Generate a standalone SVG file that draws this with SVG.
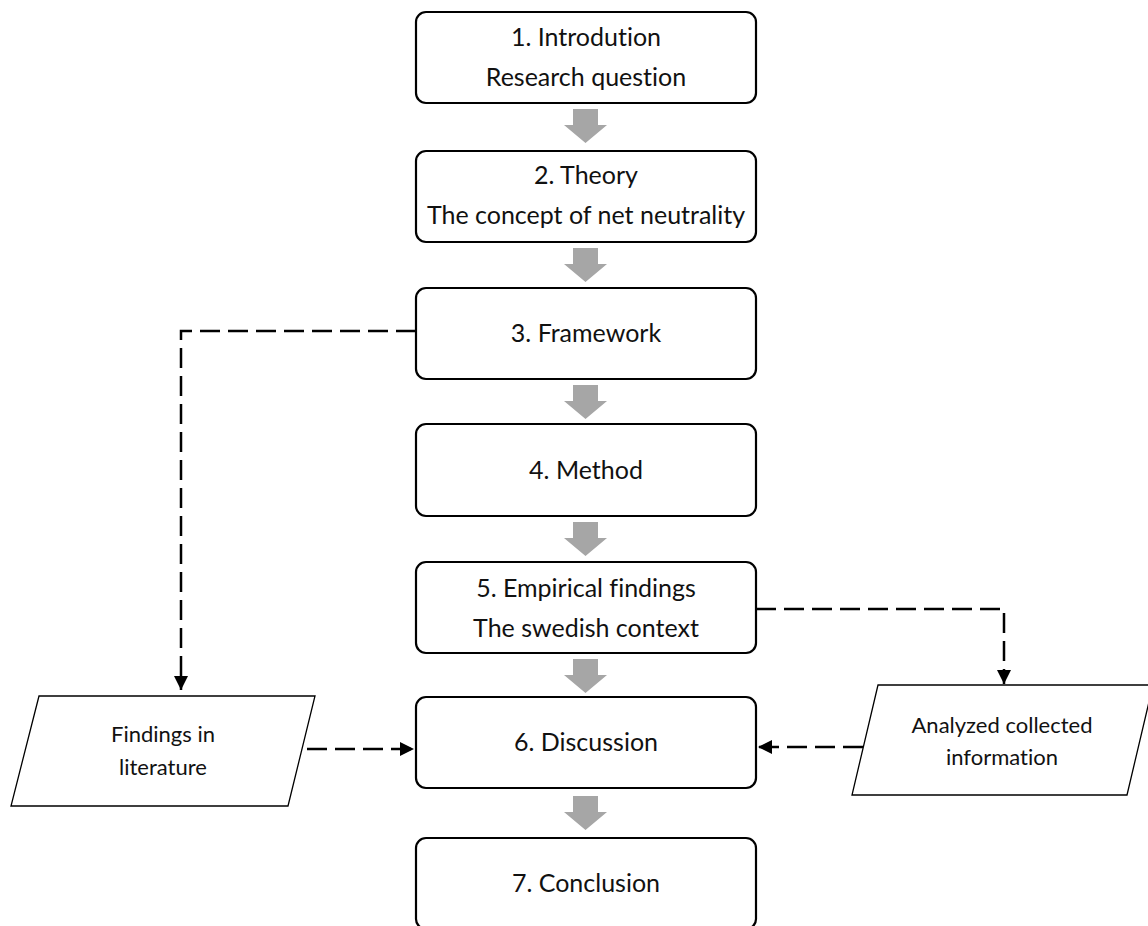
<svg xmlns="http://www.w3.org/2000/svg" width="1148" height="926" viewBox="0 0 1148 926">
<style>
.box{fill:#fff;stroke:#000;stroke-width:2.2}
.para{fill:#fff;stroke:#000;stroke-width:1.3}
.t{font-family:Lato,"Liberation Sans",sans-serif;font-size:25px;fill:#111;text-anchor:middle;font-variant-ligatures:none}
.tp{font-family:Lato,"Liberation Sans",sans-serif;font-size:22px;fill:#111;text-anchor:middle;font-variant-ligatures:none}
.dash{fill:none;stroke:#000;stroke-width:2.5;stroke-dasharray:20 8}
.flow{fill:#a6a6a6}
</style>
<defs>
<marker id="ah" markerUnits="userSpaceOnUse" markerWidth="16" markerHeight="16" viewBox="0 0 16 16" refX="15" refY="8" orient="auto">
<path d="M1,1 L15,8 L1,15 Z" fill="#000"/>
</marker>
<path id="ga" d="M-12.5,0 H12.5 V16 H21.5 L0,34 L-21.5,16 H-12.5 Z"/>
</defs>
<g id="flow-arrows" class="flow">
<use href="#ga" x="585.5" y="109"/>
<use href="#ga" x="585.5" y="248"/>
<use href="#ga" x="585.5" y="385"/>
<use href="#ga" x="585.5" y="522"/>
<use href="#ga" x="585.5" y="659"/>
<use href="#ga" x="585.5" y="796"/>
</g>
<g id="connectors">
<path class="dash" d="M416,331 H181 V690" marker-end="url(#ah)"/>
<path class="dash" d="M756,609 H1004 V684" marker-end="url(#ah)"/>
<path class="dash" d="M307,749 H414" marker-end="url(#ah)"/>
<path class="dash" d="M863,747 H758" marker-end="url(#ah)"/>
</g>
<g id="n1"><rect class="box" x="416" y="12" width="340" height="91" rx="10"/><text class="t" x="586" y="46">1. Introdution</text><text class="t" x="586" y="86">Research question</text></g>
<g id="n2"><rect class="box" x="416" y="151" width="340" height="91" rx="10"/><text class="t" x="586" y="184">2. Theory</text><text class="t" x="586" y="224">The concept of net neutrality</text></g>
<g id="n3"><rect class="box" x="416" y="288" width="340" height="91" rx="10"/><text class="t" x="586" y="342">3. Framework</text></g>
<g id="n4"><rect class="box" x="416" y="424" width="340" height="92" rx="10"/><text class="t" x="586" y="479">4. Method</text></g>
<g id="n5"><rect class="box" x="416" y="562" width="340" height="91" rx="10"/><text class="t" x="586" y="597">5. Empirical findings</text><text class="t" x="586" y="637">The swedish context</text></g>
<g id="n6"><rect class="box" x="416" y="697" width="340" height="91" rx="10"/><text class="t" x="586" y="751">6. Discussion</text></g>
<g id="n7"><rect class="box" x="416" y="838" width="340" height="91" rx="10"/><text class="t" x="586" y="892">7. Conclusion</text></g>
<g id="lit"><polygon class="para" points="39,696 315,696 288,806 11,806"/><text class="tp" x="163" y="742">Findings in</text><text class="tp" x="163" y="775">literature</text></g>
<g id="info"><polygon class="para" points="878,685 1153,685 1127,795 852,795"/><text class="tp" x="1002" y="733">Analyzed collected</text><text class="tp" x="1002" y="765">information</text></g>
</svg>
